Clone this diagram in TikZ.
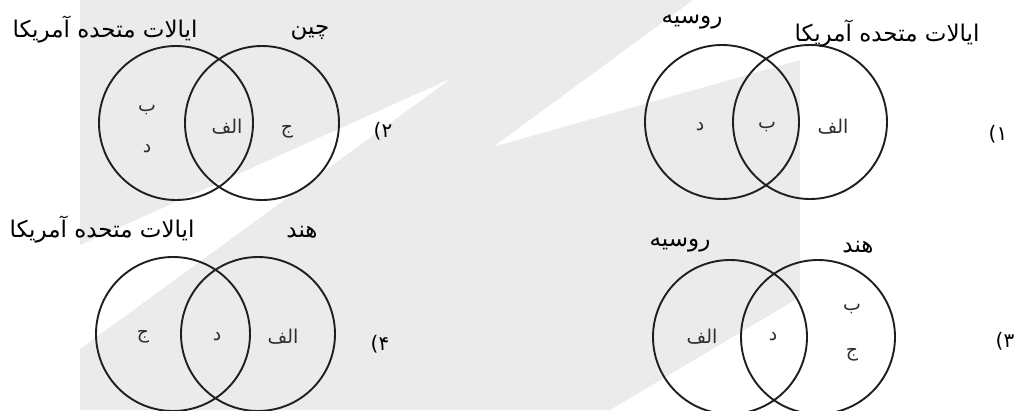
\documentclass[tikz,border=0pt]{standalone}
\usepackage{fontspec}
\usepackage{tikz}
\usetikzlibrary{positioning}
\TeXXeTstate=1
\newfontfamily\fafont[Script=Arabic]{DejaVu Sans}
\newfontfamily\numfont{DejaVu Sans}
\definecolor{wmgray}{RGB}{235,235,235}
\definecolor{inkgray}{RGB}{45,45,45}
\tikzset{
  venn/.style    = {circle, draw=black!88, line width=1.9pt,
                    minimum size=154pt, inner sep=0pt},
  part/.style    = {font=\fafont\fontsize{19}{22}\selectfont, text=inkgray},
  country/.style = {font=\fafont\fontsize{23}{26}\selectfont, text=black},
  choice/.style  = {font=\numfont\fontsize{20}{22}\selectfont}
}

\begin{document}
\begin{tikzpicture}[x=1pt, y=-1pt]
    \useasboundingbox (0,0) rectangle (1018,410);
    % watermark in the background
    \fill[wmgray] (80,0) -- (693,0) -- (493,147) -- (800,60) -- (800,297)
        -- (610,410) -- (80,410) -- (80,349) -- (452,78) -- (80,245) -- cycle;

    % 1) top right
    \node[venn](ru1) at (722,122) {};
    \node[venn](us1) at (810,122) {};
    \node[country](ru1t) at (692,22) {\beginR روسیه\endR};
    \node[country](us1t) at (887,34) {\beginR ایالات متحده آمریکا\endR};
    \node[part](d1) at (700,127) {\beginR د\endR};
    \node[part](b1) at (767,127) {\beginR ب\endR};
    \node[part](a1) at (833,127) {\beginR الف\endR};
    \node[choice](n1) at (998,134) {(۱};

    % 2) top left
    \node[venn](us2) at (176,123) {};
    \node[venn](cn2) at (262,123) {};
    \node[country](us2t) at (105,30) {\beginR ایالات متحده آمریکا\endR};
    \node[country](cn2t) at (310,33) {\beginR چین\endR};
    \node[part](b2) at (147,110) {\beginR ب\endR};
    \node[part](d2) at (147,149) {\beginR د\endR};
    \node[part](a2) at (227,127) {\beginR الف\endR};
    \node[part](j2) at (287,132) {\beginR ج\endR};
    \node[choice](n2) at (383,131) {(۲};

    % 3) bottom right
    \node[venn](ru3) at (730,337) {};
    \node[venn](in3) at (818,337) {};
    \node[country](ru3t) at (680,245) {\beginR روسیه\endR};
    \node[country](in3t) at (858,247) {\beginR هند\endR};
    \node[part](a3) at (702,337) {\beginR الف\endR};
    \node[part](d3) at (773,337) {\beginR د\endR};
    \node[part](b3) at (852,309) {\beginR ب\endR};
    \node[part](j3) at (852,355) {\beginR ج\endR};
    \node[choice](n3) at (1005,341) {(۳};

    % 4) bottom left
    \node[venn](us4) at (173,334) {};
    \node[venn](in4) at (258,334) {};
    \node[country](us4t) at (102,230) {\beginR ایالات متحده آمریکا\endR};
    \node[country](in4t) at (302,232) {\beginR هند\endR};
    \node[part](j4) at (143,337) {\beginR ج\endR};
    \node[part](d4) at (217,337) {\beginR د\endR};
    \node[part](a4) at (283,337) {\beginR الف\endR};
    \node[choice](n4) at (380,344) {(۴};
\end{tikzpicture}
\end{document}
